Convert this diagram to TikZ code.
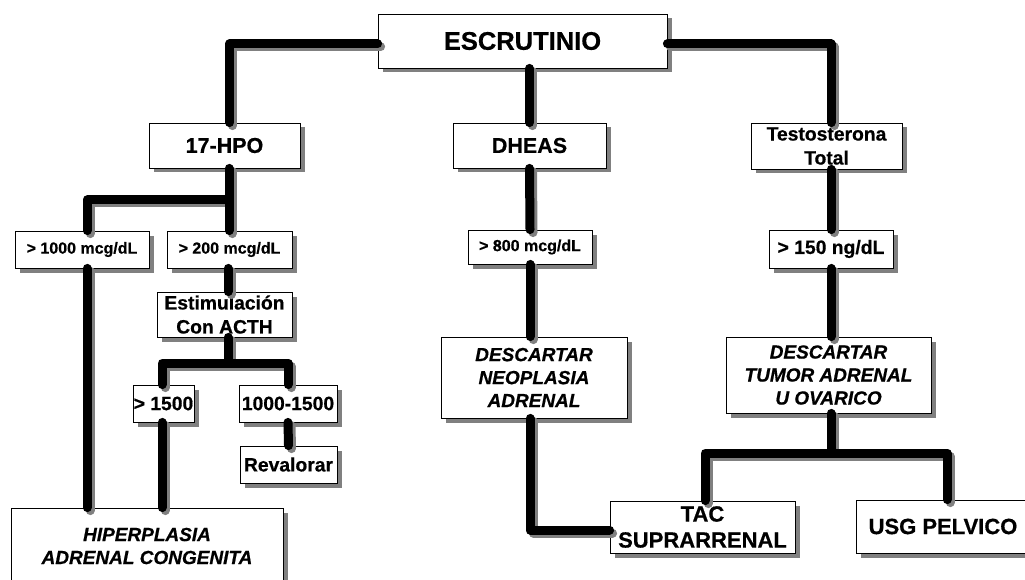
\documentclass[tikz,border=0pt]{standalone}
\usepackage{fontspec}
\setmainfont{Liberation Sans}[BoldFeatures={FakeBold=0.6},BoldItalicFeatures={FakeBold=0.6}]
\begin{document}
\begin{tikzpicture}[x=1pt,y=-1pt,
  box/.style={draw=black, line width=0.8pt, fill=white, inner sep=0pt, align=center,
    preaction={fill=boxshadow, draw=none, transform canvas={shift={(4.5pt,-4.5pt)}}}},
  fsA/.style={font=\fontsize{25.5}{30}\selectfont\bfseries},
  fsB/.style={font=\fontsize{21.5}{25}\selectfont\bfseries},
  fsC/.style={font=\fontsize{16}{19}\selectfont\bfseries},
  fsD/.style={font=\fontsize{19.3}{24}\selectfont\bfseries},
  fsI/.style={font=\fontsize{19}{23}\selectfont\bfseries\itshape},
  fsE/.style={font=\fontsize{22}{26}\selectfont\bfseries},
  shadowline/.style={draw=boxshadow, line width=9pt, line cap=round, line join=round,
    transform canvas={shift={(3pt,-3pt)}}},
  blackline/.style={draw=black, line width=9pt, line cap=round, line join=round}]
\definecolor{boxshadow}{RGB}{128,128,128}
\clip (0,0) rectangle (1025,580);
\fill[white] (0,0) rectangle (1025,580);

% boxes
\node[box, fsA, minimum width=289pt, minimum height=54pt] (esc) at (522.5,41) {ESCRUTINIO};
\node[box, fsB, minimum width=151pt, minimum height=45pt] (hpo) at (224.5,145.5) {17-HPO};
\node[box, fsB, minimum width=153pt, minimum height=45pt] (dheas) at (529.5,145.5) {DHEAS};
\node[box, fsD, minimum width=151pt, minimum height=46pt] (testo) at (826.5,146) {Testosterona\\Total};
\node[box, fsC, minimum width=134pt, minimum height=37pt] (g1000) at (82,249.5) {> 1000 mcg/dL};
\node[box, fsC, minimum width=125pt, minimum height=37pt] (g200) at (229.5,249.5) {> 200 mcg/dL};
\node[box, fsC, minimum width=124pt, minimum height=34pt] (g800) at (530,247) {> 800 mcg/dL};
\node[box, fsD, minimum width=124pt, minimum height=38pt] (g150) at (831,249) {> 150 ng/dL};
\node[box, fsD, minimum width=135pt, minimum height=45pt] (estim) at (224.5,314.5) {Estimulación\\Con ACTH};
\node[box, fsD, minimum width=61pt, minimum height=37pt] (g1500) at (163.5,403.5) {> 1500};
\node[box, fsD, minimum width=98pt, minimum height=37pt] (g1015) at (288,403.5) {1000-1500};
\node[box, fsD, minimum width=97pt, minimum height=37pt] (reval) at (288.5,464.5) {Revalorar};
\node[box, fsI, minimum width=186pt, minimum height=81pt] (descN) at (534,377.5) {DESCARTAR\\NEOPLASIA\\ADRENAL};
\node[box, fsI, minimum width=205pt, minimum height=76pt] (descT) at (828.5,375) {DESCARTAR\\TUMOR ADRENAL\\U OVARICO};
\node[box, fsI, minimum width=272pt, minimum height=76pt] (hiper) at (147,546) {HIPERPLASIA\\ADRENAL CONGENITA};
\node[box, fsE, minimum width=185pt, minimum height=52pt] (tac) at (702.5,527) {TAC\\SUPRARRENAL};
\node[box, fsE, minimum width=174pt, minimum height=53pt] (usg) at (943,526.5) {USG PELVICO};

% junctions
\coordinate (j1) at (229,200);
\coordinate (j2) at (228,363);
\coordinate (j3) at (831,453);

\newcommand{\allconns}[1]{%
  \draw[#1] ([yshift=-3pt]esc.west) -| ([xshift=5pt]hpo.north);
  \draw[#1] (esc.south -| dheas.north) -- (dheas.north);
  \draw[#1] ([yshift=-3pt]esc.east) -| ([xshift=4.5pt]testo.north);
  \draw[#1] (hpo.south -| j1) -- (g200.north -| j1);
  \draw[#1] (j1) -| ([xshift=5pt]g1000.north);
  \draw[#1] ([xshift=5pt]g1000.south) -- ([xshift=5pt]g1000.south |- hiper.north);
  \draw[#1] (g200.south -| j2) -- (estim.north -| j2);
  \draw[#1] (estim.south -| j2) -- (j2);
  \draw[#1] ([xshift=-1.5pt]g1500.north) |- (j2) -| (g1015.north);
  \draw[#1] (g1015.south) -- (reval.north);
  \draw[#1] ([xshift=-1.5pt]g1500.south) -- ([xshift=-1.5pt]g1500.south |- hiper.north);
  \draw[#1] (dheas.south) -- (g800.north);
  \draw[#1] (g800.south) -- (g800.south |- descN.north);
  \draw[#1] (g800.south |- descN.south) |- ([yshift=-3pt]tac.west);
  \draw[#1] (testo.south -| g150.north) -- (g150.north);
  \draw[#1] (g150.south) -- (g150.south |- descT.north);
  \draw[#1] (descT.south -| j3) -- (j3);
  \draw[#1] ([xshift=2.5pt]tac.north) |- (j3) -| ([xshift=4pt]usg.north);
}
\allconns{shadowline}
\allconns{blackline}
\end{tikzpicture}
\end{document}
